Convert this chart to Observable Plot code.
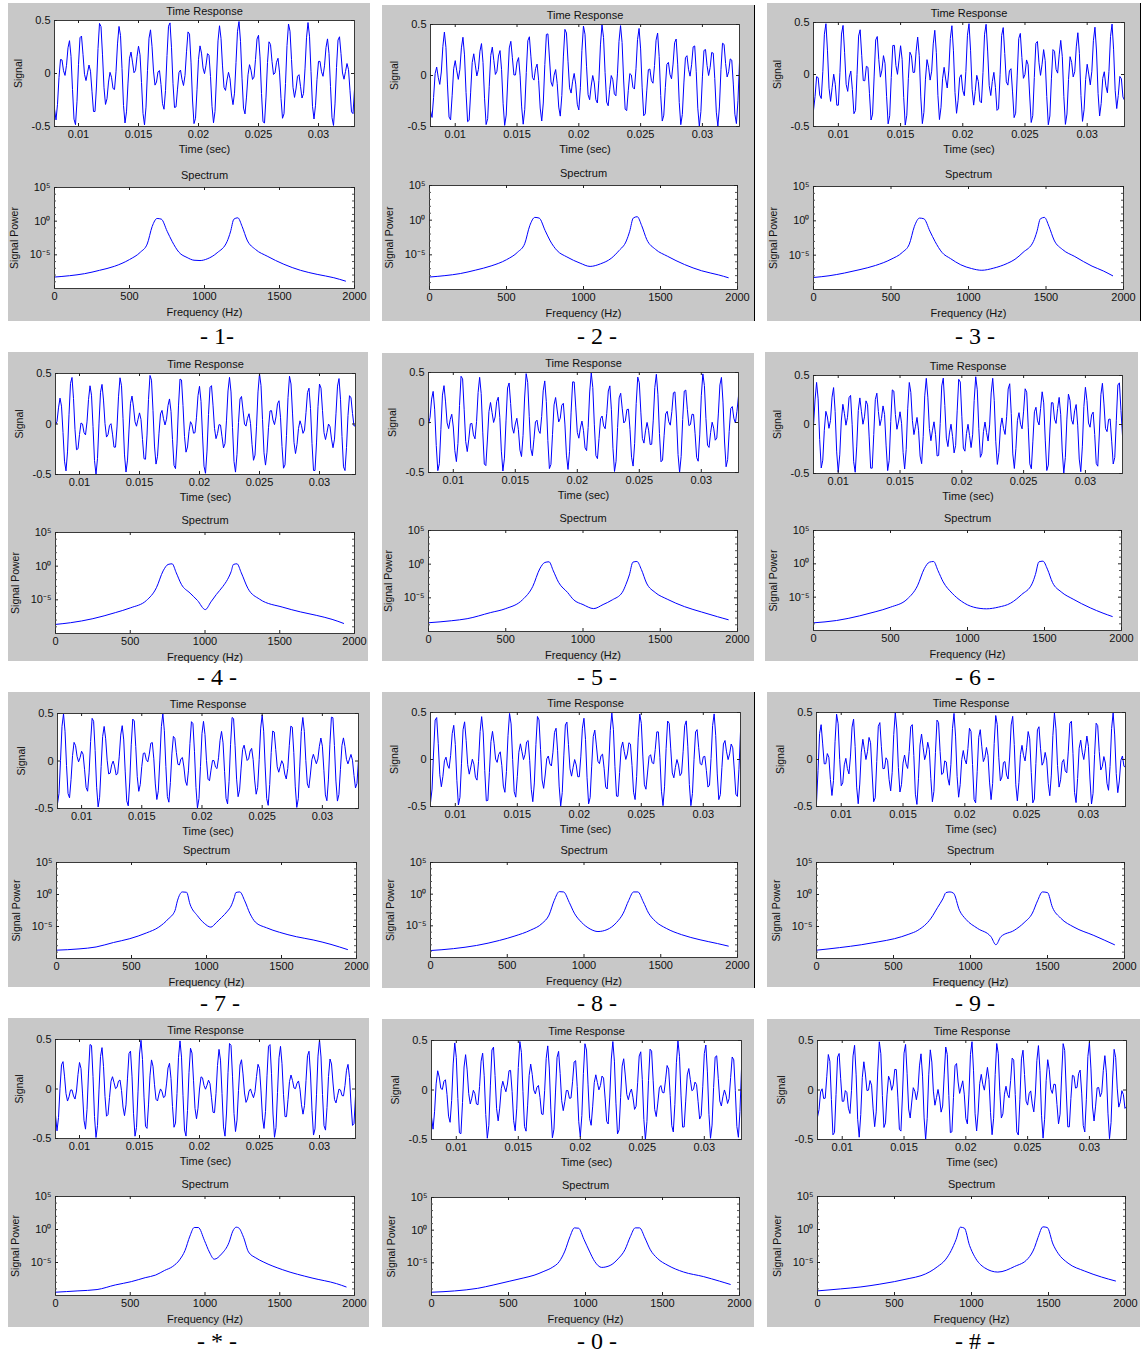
<!DOCTYPE html>
<html><head><meta charset="utf-8">
<script src="https://cdn.jsdelivr.net/npm/d3@7"></script>
<script src="https://cdn.jsdelivr.net/npm/@observablehq/plot@0.6"></script>
<style>
body{margin:0;background:#fff;}
#page{position:relative;width:1143px;height:1356px;overflow:hidden;background:#fff;}
.box{position:absolute;background:#c8c8c8;}
.edge{position:absolute;background:#000;width:1px;}
.plot{position:absolute;}
.key{position:absolute;font-family:"Liberation Serif","Times New Roman",serif;font-size:24px;line-height:24px;transform:translate(-50%,-50%);white-space:pre;color:#000;}
</style></head><body><div id="page"></div>
<script>
// ---------------- data ----------------
const keyLabels = ["- 1-","- 2 -","- 3 -","- 4 -","- 5 -","- 6 -","- 7 -","- 8 -","- 9 -","- * -","- 0 -","- # -"];
const lowTones  = [697, 697, 697, 770, 770, 770, 852, 852, 852, 941, 941, 941];
const highTones = [1209, 1336, 1477, 1209, 1336, 1477, 1209, 1336, 1477, 1209, 1336, 1477];
const toneAmplitude = 0.25;
const sampleRate = 8000;
const timeDomain = [0.008, 0.033];
const signalDomain = [-0.5, 0.5];
const freqDomain = [0, 2000];
const powerDomain = [1e-10, 1e5];
const timeTicks = [0.01, 0.015, 0.02, 0.025, 0.03];
const signalTicks = [-0.5, 0, 0.5];
const freqTicks = [0, 500, 1000, 1500, 2000];
const powerTicks = [1e-5, 1, 1e5];
const powerMinorTicks = [1e-9,1e-8,1e-7,1e-6,1e-4,1e-3,1e-2,1e-1,1e1,1e2,1e3,1e4];

// spectra: [frequency (Hz), log10 signal power]
const spec1 = [[0,-8.3],[100,-8.1],[200,-7.8],[300,-7.3],[400,-6.7],[500,-5.7],[573,-4.6],[618,-3.4],[651,-0.8],[684,0.4],[712,0.3],[751,-1.5],[784,-3.0],[829,-4.6],[884,-5.4],[930,-5.8],[970,-5.85],[1018,-5.6],[1084,-4.7],[1151,-3.0],[1173,-1.6],[1196,0.3],[1222,0.5],[1251,-0.8],[1284,-2.8],[1340,-4.2],[1418,-5.2],[1529,-6.4],[1640,-7.3],[1751,-7.9],[1862,-8.4],[1940,-8.9]];
const spec2 = [[0,-8.2],[100,-8.0],[200,-7.7],[300,-7.2],[400,-6.6],[500,-5.7],[573,-4.6],[618,-3.4],[651,-0.8],[684,0.4],[712,0.3],[751,-1.5],[784,-3.0],[829,-4.4],[892,-5.3],[978,-6.2],[1043,-6.67],[1110,-6.3],[1180,-5.5],[1230,-4.4],[1278,-3.0],[1300,-1.6],[1323,0.3],[1349,0.5],[1378,-0.8],[1411,-2.8],[1467,-4.2],[1545,-5.2],[1656,-6.4],[1767,-7.3],[1878,-7.9],[1940,-8.3]];
const spec3 = [[0,-8.25],[100,-8.0],[200,-7.6],[300,-7.1],[400,-6.5],[500,-5.6],[573,-4.6],[618,-3.4],[651,-0.8],[684,0.4],[712,0.3],[751,-1.5],[784,-3.0],[829,-4.6],[884,-5.5],[950,-6.4],[1020,-6.95],[1086,-7.2],[1160,-6.9],[1250,-6.2],[1300,-5.6],[1352,-4.6],[1419,-3.0],[1441,-1.6],[1464,0.3],[1490,0.5],[1519,-0.8],[1552,-2.8],[1608,-4.2],[1686,-5.2],[1797,-6.6],[1870,-7.3],[1930,-8.0]];
const spec4 = [[0,-8.65],[100,-8.4],[250,-7.8],[400,-6.9],[500,-6.2],[608,-5.1],[675,-3.2],[720,-0.7],[753,0.25],[780,0.35],[808,-1.0],[842,-2.7],[900,-4.0],[950,-5.1],[1002,-6.45],[1040,-5.3],[1076,-4.2],[1120,-3.0],[1150,-2.0],[1175,-0.8],[1190,0.25],[1214,0.35],[1243,-1.0],[1287,-3.3],[1365,-4.9],[1521,-6.1],[1640,-6.8],[1744,-7.3],[1850,-7.9],[1927,-8.5]];
const spec5 = [[0,-8.7],[150,-8.4],[250,-8.1],[400,-7.2],[500,-6.6],[608,-5.3],[675,-3.3],[720,-0.7],[753,0.25],[780,0.35],[808,-1.0],[842,-2.7],[900,-4.2],[940,-5.3],[1000,-6.0],[1069,-6.6],[1130,-6.0],[1190,-5.3],[1254,-4.2],[1278,-3.0],[1300,-1.6],[1323,0.3],[1349,0.4],[1378,-0.8],[1411,-2.8],[1467,-4.2],[1545,-5.2],[1656,-6.3],[1767,-7.1],[1870,-7.8],[1940,-8.25]];
const spec6 = [[0,-8.85],[150,-8.5],[300,-7.8],[400,-7.2],[500,-6.5],[608,-5.3],[675,-3.3],[720,-0.7],[753,0.25],[780,0.35],[808,-1.0],[842,-2.7],[900,-4.4],[960,-5.6],[1040,-6.5],[1123,-6.75],[1200,-6.5],[1280,-5.9],[1352,-4.6],[1419,-3.0],[1441,-1.6],[1464,0.3],[1490,0.4],[1519,-0.8],[1552,-2.8],[1608,-4.2],[1686,-5.3],[1797,-6.6],[1880,-7.4],[1940,-7.9]];
const spec7 = [[0,-8.7],[150,-8.5],[264,-8.2],[380,-7.5],[489,-6.9],[600,-6.0],[682,-5.1],[746,-3.8],[790,-2.5],[806,-1.0],[839,0.4],[867,0.35],[890,-1.5],[939,-3.3],[985,-4.5],[1029,-5.1],[1065,-4.4],[1100,-3.6],[1140,-2.6],[1164,-1.8],[1185,-0.5],[1196,0.3],[1222,0.4],[1255,-1.0],[1290,-3.0],[1325,-4.3],[1400,-5.2],[1486,-5.9],[1600,-6.6],[1711,-7.1],[1830,-7.8],[1940,-8.6]];
const spec8 = [[0,-8.9],[150,-8.6],[300,-8.1],[450,-7.3],[550,-6.6],[650,-5.7],[728,-4.6],[772,-3.3],[806,-1.0],[839,0.4],[867,0.35],[904,-1.3],[937,-3.0],[982,-4.4],[1040,-5.5],[1091,-5.9],[1150,-5.6],[1211,-4.5],[1256,-3.0],[1291,-1.0],[1323,0.35],[1351,0.35],[1386,-1.2],[1421,-3.0],[1466,-4.3],[1536,-5.4],[1636,-6.4],[1756,-7.2],[1870,-7.8],[1940,-8.2]];
const spec9 = [[0,-8.7],[150,-8.3],[291,-7.85],[400,-7.4],[507,-6.9],[600,-6.2],[658,-5.6],[744,-3.7],[787,-2.0],[820,-0.7],[841,0.3],[867,0.4],[890,0.2],[928,-2.45],[971,-3.9],[1046,-5.3],[1133,-6.6],[1165,-7.85],[1197,-6.6],[1284,-5.6],[1348,-4.4],[1402,-2.9],[1435,-1.0],[1467,0.4],[1500,0.3],[1532,-2.0],[1586,-3.7],[1672,-5.1],[1801,-6.4],[1935,-7.85]];
const specStar = [[0,-9.5],[150,-9.3],[278,-9.1],[400,-8.4],[507,-7.9],[600,-7.3],[670,-6.9],[730,-6.2],[784,-5.6],[830,-4.6],[866,-3.2],[899,-1.0],[928,0.3],[955,0.3],[997,-1.7],[1029,-3.4],[1062,-4.5],[1111,-3.7],[1160,-2.0],[1186,-0.25],[1209,0.35],[1225,0.25],[1258,-1.2],[1291,-3.4],[1340,-4.3],[1389,-4.9],[1520,-6.1],[1716,-7.35],[1879,-8.2],[1944,-8.7]];
const spec0 = [[0,-9.5],[150,-9.3],[300,-8.9],[400,-8.4],[509,-7.8],[600,-7.3],[666,-6.9],[730,-6.3],[784,-5.7],[830,-4.8],[866,-3.2],[899,-1.0],[928,0.35],[955,0.3],[990,-1.4],[1025,-3.2],[1060,-4.8],[1105,-5.7],[1160,-5.4],[1211,-4.4],[1256,-3.0],[1291,-1.0],[1323,0.35],[1351,0.35],[1386,-1.2],[1421,-3.0],[1466,-4.3],[1536,-5.4],[1636,-6.4],[1765,-7.1],[1870,-7.8],[1940,-8.3]];
const specHash = [[0,-9.3],[150,-9.0],[282,-8.7],[400,-8.3],[499,-7.9],[600,-7.4],[672,-7.0],[730,-6.4],[781,-5.6],[830,-4.6],[868,-3.2],[900,-1.5],[928,0.35],[954,0.2],[987,-2.4],[1020,-4.1],[1085,-5.8],[1171,-6.45],[1280,-5.6],[1367,-4.4],[1410,-2.7],[1432,-1.2],[1464,0.4],[1492,0.3],[1529,-2.2],[1562,-3.6],[1627,-5.1],[1735,-6.3],[1844,-7.2],[1935,-7.8]];
const spectra = [spec1, spec2, spec3, spec4, spec5, spec6, spec7, spec8, spec9, specStar, spec0, specHash];

// ---------------- layout (pixels) ----------------
const layout = [
  {box:[8,3,362,318],   t:[54,20,300,106],   s:[54,187,300,101],   key:[217,336], edge:false},
  {box:[382,5,372,316], t:[430,24,309,102],  s:[429,185,308,104],  key:[597,336], edge:true},
  {box:[767,3,373,318], t:[813,22,311,104],  s:[813,186,310,103],  key:[975,336], edge:true},
  {box:[8,352,360,309], t:[55,373,300,101],  s:[55,532,299,101],   key:[217,677], edge:false},
  {box:[382,353,372,308],t:[428,372,310,100],s:[428,530,309,101],  key:[597,677], edge:false},
  {box:[765,352,373,309],t:[813,375,309,98], s:[813,530,308,100],  key:[975,677], edge:false},
  {box:[8,692,362,295], t:[57,713,301,95],   s:[56,862,300,96],    key:[220,1003], edge:false},
  {box:[382,692,372,296],t:[430,712,310,94], s:[430,862,307,95],   key:[597,1003], edge:true},
  {box:[767,692,373,295],t:[816,712,309,94], s:[816,862,308,96],   key:[975,1003], edge:false},
  {box:[8,1018,361,309],t:[55,1039,300,99],  s:[55,1196,299,99],   key:[217,1341], edge:false},
  {box:[382,1019,372,308],t:[431,1040,310,99],s:[431,1197,308,98], key:[597,1341], edge:false},
  {box:[767,1019,373,308],t:[817,1040,309,99],s:[817,1196,308,99], key:[975,1341], edge:false}
];

const page = document.getElementById("page");
const FONT = "'Liberation Sans', Arial, Helvetica, sans-serif";
const ML = 52, MR = 14, MT = 22, MB = 34;
const LINE = "#0000ff";
const supMap = {"-":"\u207B","0":"\u2070","1":"\u00B9","2":"\u00B2","3":"\u00B3","4":"\u2074","5":"\u2075","6":"\u2076","7":"\u2077","8":"\u2078","9":"\u2079"};
const powFmt = d => "10" + String(Math.round(Math.log10(d))).split("").map(c => supMap[c]).join("");

function place(svg, rect) {
  const [px, py] = rect;
  const wrap = document.createElement("div");
  wrap.className = "plot";
  wrap.style.left = (px - ML) + "px";
  wrap.style.top = (py - MT) + "px";
  wrap.appendChild(svg);
  page.appendChild(wrap);
}

function boxTicks(xt, yt, pw, ph, minorY) {
  const m = [
    Plot.tickX(xt, {x: d => d, insetTop: ph - 3, stroke: "#222"}),
    Plot.tickX(xt, {x: d => d, insetBottom: ph - 3, stroke: "#222"}),
    Plot.tickY(yt, {y: d => d, insetRight: pw - 3, stroke: "#222"}),
    Plot.tickY(yt, {y: d => d, insetLeft: pw - 3, stroke: "#222"})
  ];
  if (minorY) {
    m.push(Plot.tickY(minorY, {y: d => d, insetRight: pw - 2, stroke: "#555"}));
    m.push(Plot.tickY(minorY, {y: d => d, insetLeft: pw - 2, stroke: "#555"}));
  }
  return m;
}

function labels(title, titleDy, xlabel, xlabelDy, ylabel, ylabelDx) {
  return [
    Plot.text([title], {text: d => d, frameAnchor: "top", textAnchor: "middle", lineAnchor: "middle", dy: titleDy, fontSize: 11}),
    Plot.text([xlabel], {text: d => d, frameAnchor: "bottom", textAnchor: "middle", lineAnchor: "middle", dy: xlabelDy, fontSize: 11}),
    Plot.text([ylabel], {text: d => d, frameAnchor: "left", textAnchor: "middle", lineAnchor: "middle", dx: ylabelDx, rotate: -90, fontSize: 10.5})
  ];
}

layout.forEach((g, i) => {
  const [bx, by, bw, bh] = g.box;
  const box = document.createElement("div");
  box.className = "box";
  Object.assign(box.style, {left: bx + "px", top: by + "px", width: bw + "px", height: bh + "px"});
  page.appendChild(box);
  if (g.edge) {
    const e = document.createElement("div");
    e.className = "edge";
    Object.assign(e.style, {left: (bx + bw) + "px", top: by + "px", height: bh + "px"});
    page.appendChild(e);
  }

  // ---- time response ----
  const [tx, ty, tw, th] = g.t;
  const samples = d3.range(60, 270).map(n => ({
    t: n / sampleRate,
    v: toneAmplitude * (Math.sin(2 * Math.PI * lowTones[i] * n / sampleRate) + Math.sin(2 * Math.PI * highTones[i] * n / sampleRate))
  }));
  const timePlot = Plot.plot({
    width: tw + ML + MR, height: th + MT + MB,
    marginLeft: ML, marginRight: MR, marginTop: MT, marginBottom: MB,
    style: {background: "transparent", fontFamily: FONT, fontSize: "11px", color: "#111"},
    x: {domain: timeDomain, label: null},
    y: {domain: signalDomain, label: null},
    marks: [
      Plot.frame({fill: "white", stroke: "none"}),
      Plot.line(samples, {x: "t", y: "v", stroke: LINE, strokeWidth: 1, clip: true}),
      Plot.frame({stroke: "#3a3a3a", strokeWidth: 1}),
      ...boxTicks(timeTicks, signalTicks, tw, th, null),
      Plot.axisX({ticks: timeTicks, tickSize: 0, tickPadding: 4, tickFormat: d => String(d), label: null}),
      Plot.axisY({ticks: signalTicks, tickSize: 0, tickPadding: 4, tickFormat: d => String(d), label: null}),
      ...labels("Time Response", -9, "Time (sec)", 23, "Signal", -36)
    ]
  });
  place(timePlot, g.t);

  // ---- spectrum ----
  const [sx, sy, sw, sh] = g.s;
  const spec = spectra[i].map(([f, lp]) => ({f, p: Math.pow(10, lp)}));
  const specPlot = Plot.plot({
    width: sw + ML + MR, height: sh + MT + MB,
    marginLeft: ML, marginRight: MR, marginTop: MT, marginBottom: MB,
    style: {background: "transparent", fontFamily: FONT, fontSize: "11px", color: "#111"},
    x: {domain: freqDomain, label: null},
    y: {type: "log", domain: powerDomain, label: null},
    marks: [
      Plot.frame({fill: "white", stroke: "none"}),
      Plot.line(spec, {x: "f", y: "p", stroke: LINE, strokeWidth: 1, curve: "monotone-x", clip: true}),
      Plot.frame({stroke: "#3a3a3a", strokeWidth: 1}),
      ...boxTicks(freqTicks, powerTicks, sw, sh, powerMinorTicks),
      Plot.axisX({ticks: freqTicks, tickSize: 0, tickPadding: 4, tickFormat: d => String(d), label: null}),
      Plot.axisY({ticks: powerTicks, tickSize: 0, tickPadding: 4, tickFormat: powFmt, label: null}),
      ...labels("Spectrum", -12, "Frequency (Hz)", 24, "Signal Power", -40)
    ]
  });
  place(specPlot, g.s);

  // ---- key label ----
  const k = document.createElement("div");
  k.className = "key";
  k.textContent = keyLabels[i];
  k.style.left = g.key[0] + "px";
  k.style.top = g.key[1] + "px";
  page.appendChild(k);
});
</script></body></html>
